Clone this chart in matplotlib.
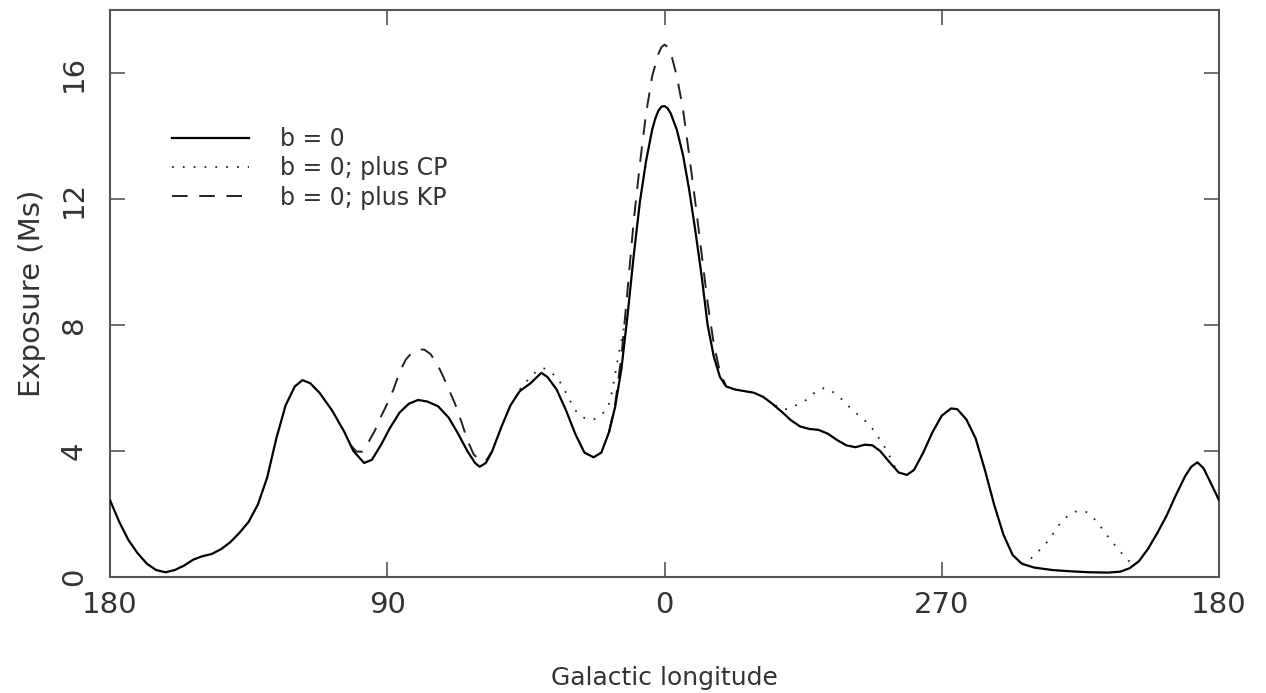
import numpy as np
import matplotlib
matplotlib.use('Agg')
import matplotlib.pyplot as plt

# position along the axis in degrees from the left edge (l = 180 -> 0 -> 180)
pos = [0, 3, 6, 9, 12, 15, 18, 21, 24, 27, 30, 33, 36, 39, 42, 45, 48, 51,
       54, 57, 60, 62.5, 65, 68, 72, 76, 79, 82.5, 85, 88, 91, 94, 97, 100,
       103, 106.5, 110, 113, 116, 118.5, 120, 122, 124, 127, 130, 133, 136.5,
       140, 142, 145, 148, 151, 154, 157, 159.5, 162, 164, 166, 168, 170, 172,
       174, 176, 177, 178, 179, 180, 181, 182, 184, 186, 188, 190, 192, 194,
       196, 198, 200, 203, 206, 209, 212, 215, 218, 221, 224, 227, 230, 233,
       236, 239, 242, 245, 247.5, 250, 253, 256, 258.7, 261, 264, 267, 270,
       273, 275, 278, 281, 284, 287, 290, 293, 296, 300, 306, 312, 318, 324,
       328, 331, 334, 337, 340, 343, 346, 349, 351, 353, 355, 357, 360]
exp_b0 = [2.44, 1.75, 1.17, 0.75, 0.42, 0.22, 0.15, 0.22, 0.36, 0.55, 0.66,
          0.73, 0.88, 1.10, 1.40, 1.75, 2.30, 3.15, 4.40, 5.45, 6.05, 6.25,
          6.15, 5.85, 5.30, 4.62, 4.00, 3.62, 3.72, 4.20, 4.75, 5.22, 5.50,
          5.62, 5.57, 5.42, 5.05, 4.55, 4.00, 3.62, 3.50, 3.62, 3.98, 4.75,
          5.45, 5.90, 6.15, 6.48, 6.35, 5.95, 5.30, 4.55, 3.95, 3.80, 3.95,
          4.60, 5.41, 6.60, 8.30, 10.2, 11.9, 13.2, 14.2, 14.55, 14.8, 14.93,
          14.95, 14.88, 14.72, 14.2, 13.4, 12.3, 11.0, 9.6, 8.0, 7.0, 6.35,
          6.05, 5.95, 5.90, 5.85, 5.72, 5.50, 5.25, 4.98, 4.78, 4.70, 4.67,
          4.55, 4.35, 4.18, 4.12, 4.20, 4.18, 4.00, 3.65, 3.32, 3.24, 3.40,
          3.95, 4.60, 5.12, 5.35, 5.33, 5.00, 4.40, 3.40, 2.30, 1.35, 0.70,
          0.42, 0.30, 0.22, 0.18, 0.15, 0.14, 0.17, 0.28, 0.50, 0.90, 1.40,
          1.95, 2.60, 3.20, 3.50, 3.64, 3.45, 3.05, 2.44]

# b = 0 plus CP, only where it leaves the b = 0 curve
cp_pos1 = [133, 136, 139, 141, 143, 145, 147, 149, 151, 153, 155, 157, 159,
           161, 162, 163, 165, 167, 168]
cp_exp1 = [5.95, 6.30, 6.58, 6.62, 6.50, 6.35, 6.05, 5.65, 5.30, 5.10, 5.00,
           5.00, 5.10, 5.30, 5.50, 5.90, 7.00, 8.00, 8.50]
cp_pos2 = [216, 218, 220, 222, 224, 226, 228, 230, 232, 234, 236, 238, 240,
           242, 244, 246, 248, 250, 252, 253, 255]
cp_exp2 = [5.45, 5.33, 5.33, 5.42, 5.52, 5.62, 5.80, 5.95, 6.00, 5.92, 5.78,
           5.60, 5.40, 5.22, 5.05, 4.88, 4.65, 4.35, 4.05, 3.85, 3.45]
cp_pos3 = [296, 298, 300, 303, 306, 308.4, 311, 313, 315, 317, 319, 321, 323,
           325.7, 328, 330, 332, 333]
cp_exp3 = [0.42, 0.48, 0.70, 0.96, 1.35, 1.70, 1.95, 2.07, 2.10, 2.06, 1.90,
           1.68, 1.40, 1.07, 0.80, 0.59, 0.38, 0.35]

# b = 0 plus KP
kp_pos1 = [78, 80, 82, 84, 86, 88, 90, 92, 94, 96, 98, 100, 102, 104, 106,
           108, 110, 112, 114, 116, 118, 120, 122, 124]
kp_exp1 = [4.20, 3.98, 3.98, 4.30, 4.65, 5.10, 5.50, 5.95, 6.50, 6.90, 7.12,
           7.22, 7.22, 7.08, 6.80, 6.40, 5.95, 5.50, 4.95, 4.35, 3.90, 3.70,
           3.68, 3.98]
kp_pos2 = [162, 164, 166, 168, 170, 172, 174, 176, 178, 179, 180, 181, 182,
           184, 186, 188, 190, 192, 194, 196, 198, 200]
kp_exp2 = [4.60, 5.50, 7.00, 9.10, 11.3, 13.1, 14.7, 15.9, 16.6, 16.82, 16.9,
           16.83, 16.65, 15.9, 14.85, 13.4, 11.9, 10.3, 8.7, 7.4, 6.5, 6.05]

tick_pos = [0, 90, 180, 270, 360]
tick_lab = ['180', '90', '0', '270', '180']
ytick_val = [0, 4, 8, 12, 16]


def join(*segs):
    xs, ys = [], []
    for x, y in segs:
        xs += list(x) + [np.nan]
        ys += list(y) + [np.nan]
    return xs, ys


plt.rcParams['font.family'] = 'DejaVu Sans'
txtc = '#333333'
axc = '#555555'

fig = plt.figure(figsize=(12.66, 6.93), dpi=100)
ax = fig.add_axes([110 / 1266, 1 - 577 / 693, 1109 / 1266, 567 / 693])

cx, cy = join((cp_pos1, cp_exp1), (cp_pos2, cp_exp2), (cp_pos3, cp_exp3))
kx, ky = join((kp_pos1, kp_exp1), (kp_pos2, kp_exp2))

ax.plot(pos, exp_b0, color='black', lw=1.6, label='b = 0', zorder=3,
        solid_joinstyle='round')
ax.plot(cx, cy, color='#222222', lw=1.3, linestyle=(0, (1, 5)),
        label='b = 0; plus CP', zorder=2)
ax.plot(kx, ky, color='#222222', lw=1.4, linestyle=(0, (8, 6)),
        label='b = 0; plus KP', zorder=2)

ax.set_xlim(0, 360)
ax.set_ylim(0, 18)
ax.set_xticks(tick_pos)
ax.set_xticklabels(tick_lab)
ax.set_yticks(ytick_val)
ax.tick_params(axis='both', direction='in', length=11, width=1.2,
               color=axc, labelcolor=txtc, top=True, right=True)
ax.tick_params(axis='x', labelsize=21, pad=10)
ax.tick_params(axis='y', labelsize=21, pad=16)
for lab in ax.get_yticklabels():
    lab.set_rotation(90)
    lab.set_va('center')
for sp in ax.spines.values():
    sp.set_color(axc)
    sp.set_linewidth(1.5)

ax.set_xlabel('Galactic longitude', fontsize=18, color=txtc, labelpad=34)
ax.set_ylabel('Exposure (Ms)', fontsize=21, color=txtc, labelpad=10)

ax.legend(loc='upper left', bbox_to_anchor=(0.047, 0.81), frameon=False,
          fontsize=17, handlelength=3.3, handletextpad=1.3,
          labelspacing=0.22, borderaxespad=0, labelcolor=txtc)

plt.savefig('out.png', dpi=100)
